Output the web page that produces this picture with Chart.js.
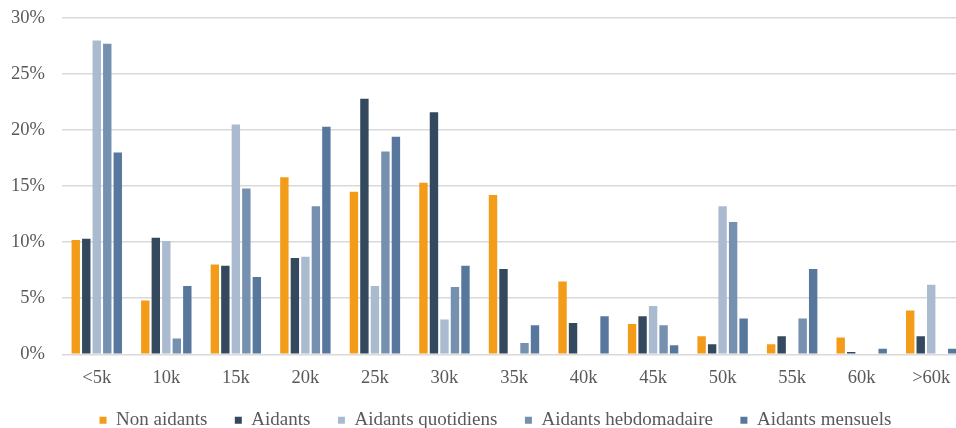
<!DOCTYPE html>
<html lang="fr">
<head>
<meta charset="utf-8">
<title>Répartition par tranche de revenu</title>
<script src="https://cdn.jsdelivr.net/npm/chart.js@4.4.1/dist/chart.umd.min.js"></script>
<style>
  html, body { margin: 0; padding: 0; background: #ffffff; overflow: hidden; }
  #wrap { position: relative; width: 970px; height: 428px; }
</style>
</head>
<body>
<div id="wrap"><canvas id="chart"></canvas></div>
<script>
// Income brackets
const categories = ['<5k', '10k', '15k', '20k', '25k', '30k', '35k', '40k', '45k', '50k', '55k', '60k', '>60k'];

// Share of each group per bracket (%)
const nonAidants = [10.2, 4.8, 8.0, 15.8, 14.5, 15.3, 14.2, 6.5, 2.7, 1.6, 0.9, 1.5, 3.9];
const aidants = [10.3, 10.4, 7.9, 8.6, 22.8, 21.6, 7.6, 2.8, 3.4, 0.9, 1.6, 0.2, 1.6];
const aidantsQuotidiens = [28.0, 10.1, 20.5, 8.7, 6.1, 3.1, 0, 0, 4.3, 13.2, 0, 0, 6.2];
const aidantsHebdomadaire = [27.7, 1.4, 14.8, 13.2, 18.1, 6.0, 1.0, 0, 2.6, 11.8, 3.2, 0, 0];
const aidantsMensuels = [18.0, 6.1, 6.9, 20.3, 19.4, 7.9, 2.6, 3.4, 0.8, 3.2, 7.6, 0.5, 0.5];

// Y axis ticks (%)
const yTicks = [0, 5, 10, 15, 20, 25, 30];

const seriesNames = ['Non aidants', 'Aidants', 'Aidants quotidiens', 'Aidants hebdomadaire', 'Aidants mensuels'];
const seriesData = [nonAidants, aidants, aidantsQuotidiens, aidantsHebdomadaire, aidantsMensuels];
const seriesColors = ['#F39C1A', '#34495E', '#AABBD0', '#7591AF', '#57789C'];

const serif = '"Liberation Serif", "Times New Roman", serif';
const textColor = '#595959';

// Fixed box sizes for the bottom area
const X_AXIS_HEIGHT = 40;
const LEGEND_HEIGHT = 33.7;
const LEGEND_SHIFT_X = 12.5;
const LEGEND_SHIFT_Y = -11;

// Keeps the legend at a fixed height and nudges its position
const legendLayout = {
  id: 'legendLayout',
  beforeUpdate(chart) {
    const legend = chart.legend;
    if (legend && !legend._fixedFit) {
      const fit = legend.fit.bind(legend);
      legend.fit = function () { fit(); this.height = LEGEND_HEIGHT; };
      legend._fixedFit = true;
    }
  },
  afterLayout(chart) {
    const legend = chart.legend;
    if (legend) {
      legend.left += LEGEND_SHIFT_X;
      legend.right += LEGEND_SHIFT_X;
      legend.top += LEGEND_SHIFT_Y;
      legend.bottom = chart.height;
      legend.height = legend.bottom - legend.top;
    }
  }
};

new Chart(document.getElementById('chart'), {
  type: 'bar',
  data: {
    labels: categories,
    datasets: seriesNames.map((name, i) => ({
      label: name,
      data: seriesData[i],
      backgroundColor: seriesColors[i],
      borderWidth: 0,
      categoryPercentage: 0.755,
      barPercentage: 0.8
    }))
  },
  plugins: [legendLayout],
  options: {
    responsive: true,
    maintainAspectRatio: false,
    animation: false,
    devicePixelRatio: 1,
    layout: { padding: { left: 0, right: 4, top: 18, bottom: 0 } },
    plugins: {
      tooltip: { enabled: false },
      legend: {
        position: 'bottom',
        labels: {
          boxWidth: 7,
          boxHeight: 7,
          padding: 27.5,
          color: textColor,
          font: { family: serif, size: 19 },
          generateLabels(chart) {
            const items = Chart.defaults.plugins.legend.labels.generateLabels(chart);
            items.forEach(it => { it.lineWidth = 0; it.strokeStyle = it.fillStyle; });
            return items;
          }
        }
      }
    },
    scales: {
      x: {
        afterFit(scale) {
          scale.height = X_AXIS_HEIGHT;
          scale.paddingLeft = 0;
          scale.paddingRight = 0;
        },
        grid: { display: false, drawTicks: false },
        border: { display: false },
        ticks: {
          color: textColor,
          font: { family: serif, size: 18.5 },
          padding: 13,
          maxRotation: 0,
          autoSkip: false
        }
      },
      y: {
        min: 0,
        max: 30,
        afterFit(scale) {
          scale.width = 62;
          scale.paddingTop = 0;
          scale.paddingBottom = 0;
        },
        afterBuildTicks(scale) { scale.ticks = yTicks.map(v => ({ value: v })); },
        grid: { color: '#D9D9D9', lineWidth: 1.6, drawTicks: false },
        border: { display: false },
        ticks: {
          color: textColor,
          font: { family: serif, size: 18.5 },
          padding: 17,
          callback: v => v + '%'
        }
      }
    }
  }
});
</script>
</body>
</html>
